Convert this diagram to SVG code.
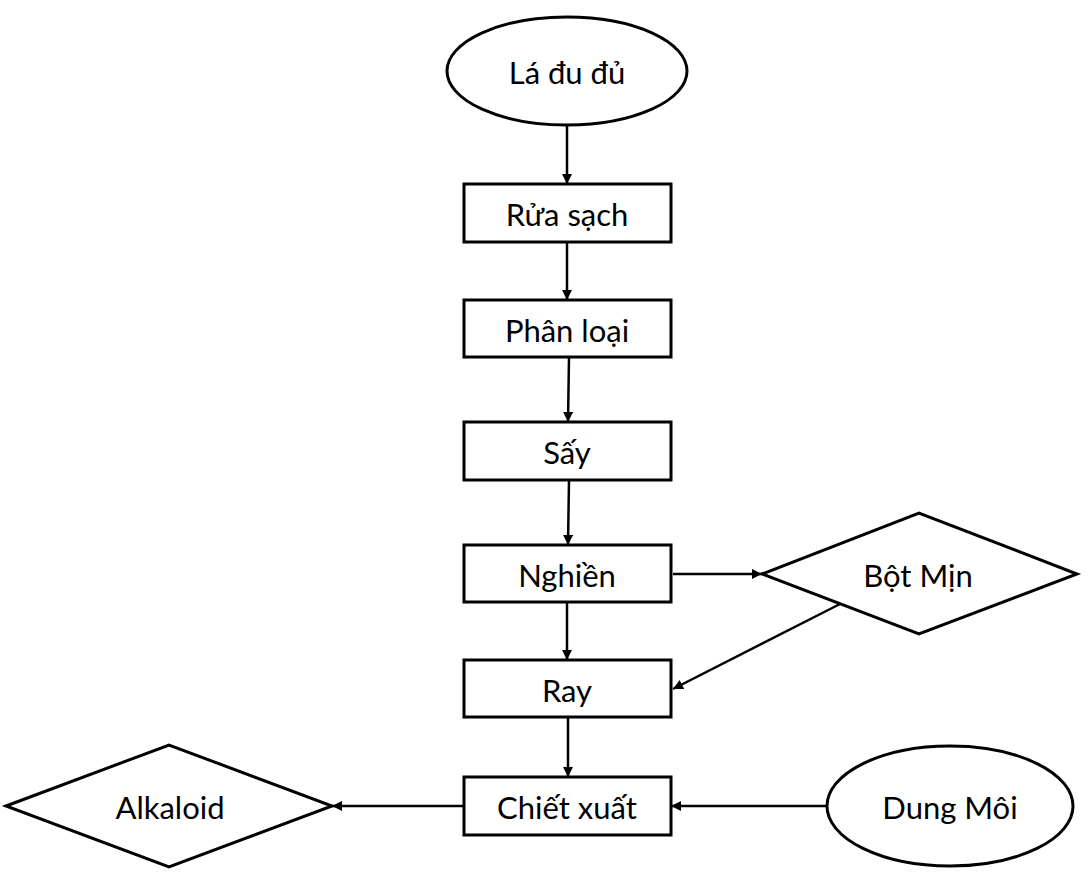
<svg xmlns="http://www.w3.org/2000/svg" width="1091" height="884" viewBox="0 0 1091 884">
<style>
.s{fill:#fff;stroke:#000;stroke-width:3}
.t{font-family:Lato,"Noto Sans",sans-serif;font-size:31px;fill:#000;text-anchor:middle;dominant-baseline:central}
.c{stroke:#000;stroke-width:2.5;fill:none;marker-end:url(#a)}
</style>
<defs>
<marker id="a" viewBox="0 0 10 10" refX="10" refY="5" markerWidth="4.6" markerHeight="4" orient="auto" markerUnits="strokeWidth">
<path d="M0,0L10,5L0,10z" fill="#000"/>
</marker>
</defs>
<rect width="1091" height="884" fill="#fff"/>
<g id="connectors">
<path class="c" d="M567,125V184"/>
<path class="c" d="M567,242V300"/>
<path class="c" d="M569,357L568,422"/>
<path class="c" d="M569,480L568,545"/>
<path class="c" d="M673,574H762"/>
<path class="c" d="M567,602V660"/>
<path class="c" d="M840,604L673,689"/>
<path class="c" d="M568,717V777"/>
<path class="c" d="M464,806H332"/>
<path class="c" d="M827,806H671"/>
</g>
<g id="la-du-du"><ellipse class="s" cx="567" cy="71" rx="120" ry="54"/><text class="t" x="567" y="72">Lá đu đủ</text></g>
<g id="rua-sach"><rect class="s" x="464" y="184" width="207" height="58"/><text class="t" x="567" y="214">Rửa sạch</text></g>
<g id="phan-loai"><rect class="s" x="464" y="300" width="207" height="57"/><text class="t" x="567" y="330">Phân loại</text></g>
<g id="say"><rect class="s" x="464" y="422" width="207" height="58"/><text class="t" x="567" y="452">Sấy</text></g>
<g id="nghien"><rect class="s" x="464" y="545" width="207" height="57"/><text class="t" x="567" y="575">Nghiền</text></g>
<g id="bot-min"><polygon class="s" points="762,574 919,513 1077,574 919,634"/><text class="t" x="918" y="575">Bột Mịn</text></g>
<g id="ray"><rect class="s" x="464" y="660" width="207" height="57"/><text class="t" x="567" y="690">Ray</text></g>
<g id="chiet-xuat"><rect class="s" x="464" y="777" width="207" height="58"/><text class="t" x="567" y="807">Chiết xuất</text></g>
<g id="alkaloid"><polygon class="s" points="6,806 169,745 332,806 169,867"/><text class="t" x="170" y="807">Alkaloid</text></g>
<g id="dung-moi"><ellipse class="s" cx="950" cy="806" rx="123" ry="60"/><text class="t" x="950" y="807">Dung Môi</text></g>
</svg>
